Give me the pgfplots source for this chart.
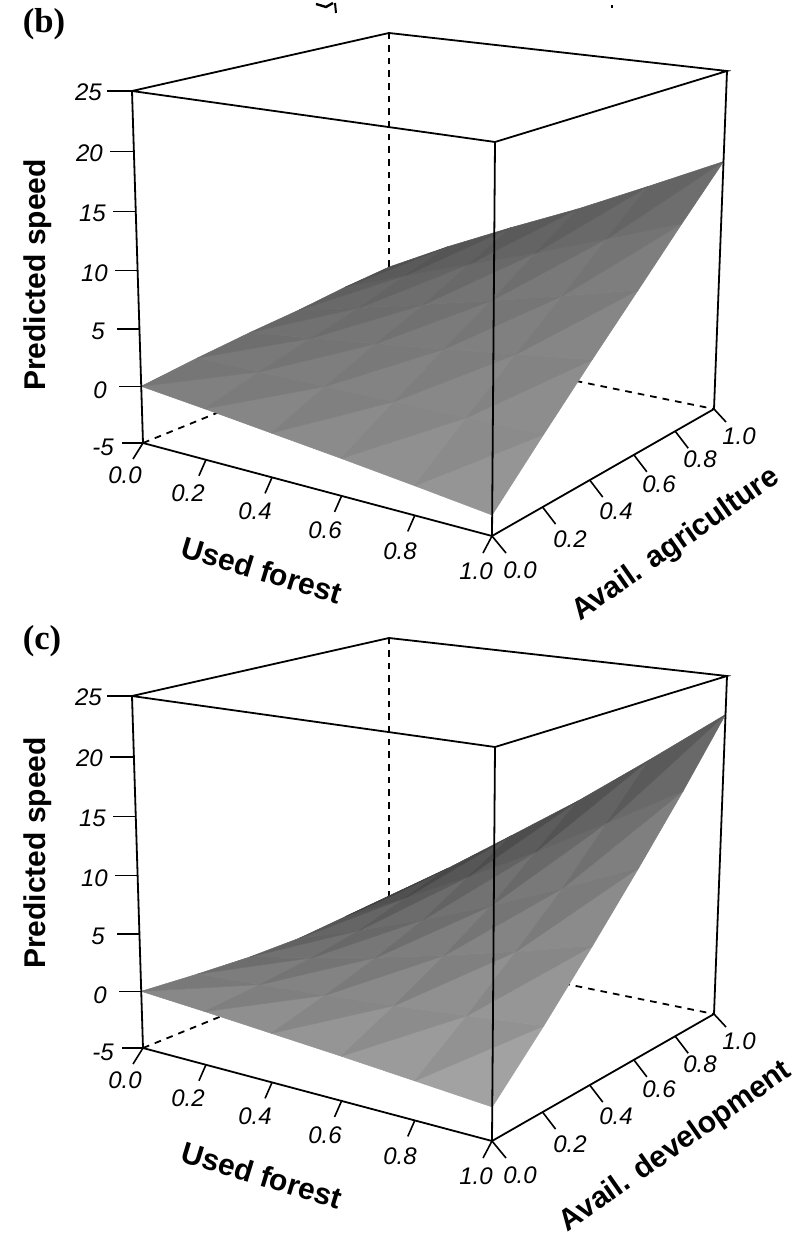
\documentclass[border=0pt]{standalone}
\usepackage{fontspec}
\setmainfont{Liberation Sans}
\newfontfamily\serifb{Liberation Serif}
\usepackage{pgfplots}
\usepackage{pgfplotstable}
\pgfplotsset{compat=1.18}
% surface values: u = used forest, v = availability, w = predicted speed
\pgfplotstableread{
u v w
0 0 0
0.2 0 -0.6
0.4 0 -1.25
0.6 0 -1.9
0.8 0 -2.6
1 0 -3.34
0 0.2 0.64
0.2 0.2 0.69
0.4 0.2 0.73
0.6 0.2 0.79
0.8 0.2 0.85
1 0.2 0.9
0 0.4 1.18
0.2 0.4 1.87
0.4 0.4 2.61
0.6 0.4 3.38
0.8 0.4 4.21
1 0.4 5.05
0 0.6 1.6
0.2 0.6 2.95
0.4 0.6 4.38
0.6 0.6 5.87
0.8 0.6 7.46
1 0.6 9.1
0 0.8 2.17
0.2 0.8 4.35
0.4 0.8 6.45
0.6 0.8 8.55
0.8 0.8 10.85
1 0.8 13.2
0 1 2.58
0.2 1 5.6
0.4 1 8.4
0.6 1 11.1
0.8 1 14.1
1 1 17.2
}\surfB
\pgfplotstableread{
u v w
0 0 0
0.2 0 -0.4
0.4 0 -0.85
0.6 0 -1.3
0.8 0 -1.8
1 0 -2.31
0 0.2 -0.35
0.2 0.2 0.0
0.4 0.2 0.4
0.6 0.2 0.87
0.8 0.2 1.41
1 0.2 2.0
0 0.4 -0.6
0.2 0.4 0.55
0.4 0.4 1.83
0.6 0.4 3.26
0.8 0.4 4.87
1 0.4 6.6
0 0.6 -0.6
0.2 0.6 1.33
0.4 0.6 3.48
0.6 0.6 5.88
0.8 0.6 8.55
1 0.6 11.4
0 0.8 -0.2
0.2 0.8 2.7
0.4 0.8 5.8
0.6 0.8 9.1
0.8 0.8 12.7
1 0.8 16.4
0 1 0.1
0.2 1 4.0
0.4 1 8.1
0.6 1 12.3
0.8 1 16.9
1 1 21.7
}\surfC
\pgfplotstableread{
u v w
0 0 25
1 0 25
1 1 25
0 1 25
0 0 25
0 0 -5
1 0 -5
1 1 -5
1 1 25
}\frameSolid
\pgfplotstableread{
u v w
1 0 -5
1 0 25
}\frameFront
\pgfplotstableread{
u v w
0 0 -5
0 1 -5
1 1 -5
}\frameDashA
\pgfplotstableread{
u v w
0 1 -5
0 1 25
}\frameDashB
\pgfplotstableread{
u v w dx dy
0 0 -5 -21 0
0 0 0 -22 0
0 0 5 -22 0
0 0 10 -23 0
0 0 15 -23 0
0 0 20 -24 0
0 0 25 -25 0
0 0 -5 -10 16
0.2 0 -5 -7 16
0.4 0 -5 -7 16
0.6 0 -5 -7 16
0.8 0 -5 -7 16
1 0 -5 -9 17
1 0 -5 14 17
1 0.2 -5 13 17
1 0.4 -5 13 17
1 0.6 -5 13 17
1 0.8 -5 13 17
1 1 -5 12 13
}\ticksTable
\tikzset{declare function={
 uu(\u)=0.88*\u/(1-0.12*\u);
 vv(\v)=1.18*\v/(1+0.18*\v);
 tt(\w)=0.96*((\w+5)/30)/(1-0.04*((\w+5)/30));
 PX(\a,\b,\c)=(1-\c)*((1-\a)*(1-\b)*143+\a*(1-\b)*492+(1-\a)*\b*389+\a*\b*714)+\c*((1-\a)*(1-\b)*132+\a*(1-\b)*495+(1-\a)*\b*389+\a*\b*727);
 PY(\a,\b,\c)=(1-\c)*((1-\a)*(1-\b)*443+\a*(1-\b)*536+(1-\a)*\b*343+\a*\b*409)+\c*((1-\a)*(1-\b)*91+\a*(1-\b)*142+(1-\a)*\b*33+\a*\b*71);
}}
\pgfplotsset{
 /pgfplots/table/proj/.style={/pgfplots/table/x expr={PX(uu(\thisrow{u}),vv(\thisrow{v}),tt(\thisrow{w}))},/pgfplots/table/y expr={PY(uu(\thisrow{u}),vv(\thisrow{v}),tt(\thisrow{w}))}},
 panel/.style={width=596.25pt,height=926.25pt,scale only axis,at={(0,0)},anchor=south west,
  xmin=0,xmax=795,y dir=reverse,hide axis,clip=false,
  point meta min=0,point meta max=1,
  colormap={grayshade}{gray(0cm)=(0); gray(1cm)=(1)}},
 shadesB/.style={table/row sep=\\,patch table with point meta={
0 1 7 .50\\ 0 7 6 .46\\ 1 2 8 .52\\ 1 8 7 .48\\ 2 3 9 .54\\ 2 9 8 .50\\ 3 4 10 .56\\ 3 10 9 .52\\ 4 5 11 .58\\ 4 11 10 .54\\
6 7 13 .47\\ 6 13 12 .43\\ 7 8 14 .49\\ 7 14 13 .45\\ 8 9 15 .51\\ 8 15 14 .47\\ 9 10 16 .53\\ 9 16 15 .49\\ 10 11 17 .55\\ 10 17 16 .51\\
12 13 19 .44\\ 12 19 18 .40\\ 13 14 20 .46\\ 13 20 19 .42\\ 14 15 21 .48\\ 14 21 20 .44\\ 15 16 22 .50\\ 15 22 21 .46\\ 16 17 23 .52\\ 16 23 22 .48\\
18 19 25 .41\\ 18 25 24 .37\\ 19 20 26 .43\\ 19 26 25 .39\\ 20 21 27 .45\\ 20 27 26 .41\\ 21 22 28 .47\\ 21 28 27 .43\\ 22 23 29 .49\\ 22 29 28 .45\\
24 25 31 .35\\ 24 31 30 .31\\ 25 26 32 .37\\ 25 32 31 .33\\ 26 27 33 .39\\ 26 33 32 .35\\ 27 28 34 .41\\ 27 34 33 .37\\ 28 29 35 .43\\ 28 35 34 .39\\
}},
 shadesC/.style={table/row sep=\\,patch table with point meta={
0 1 7 .53\\ 0 7 6 .47\\ 1 2 8 .555\\ 1 8 7 .495\\ 2 3 9 .58\\ 2 9 8 .52\\ 3 4 10 .605\\ 3 10 9 .545\\ 4 5 11 .63\\ 4 11 10 .57\\
6 7 13 .485\\ 6 13 12 .425\\ 7 8 14 .51\\ 7 14 13 .45\\ 8 9 15 .535\\ 8 15 14 .475\\ 9 10 16 .56\\ 9 16 15 .50\\ 10 11 17 .585\\ 10 17 16 .525\\
12 13 19 .44\\ 12 19 18 .38\\ 13 14 20 .465\\ 13 20 19 .405\\ 14 15 21 .49\\ 14 21 20 .43\\ 15 16 22 .515\\ 15 22 21 .455\\ 16 17 23 .54\\ 16 23 22 .48\\
18 19 25 .395\\ 18 25 24 .335\\ 19 20 26 .42\\ 19 26 25 .36\\ 20 21 27 .445\\ 20 27 26 .385\\ 21 22 28 .47\\ 21 28 27 .41\\ 22 23 29 .495\\ 22 29 28 .435\\
24 25 31 .31\\ 24 31 30 .25\\ 25 26 32 .335\\ 25 32 31 .275\\ 26 27 33 .36\\ 26 33 32 .30\\ 27 28 34 .385\\ 27 34 33 .325\\ 28 29 35 .41\\ 28 35 34 .35\\
}}
}
\newcommand\tl{\fontsize{18}{20}\selectfont\itshape}
\newcommand\at{\fontsize{22.5}{26}\selectfont\bfseries}
\newcommand\backframe{%
 \addplot[black,line width=1.35pt,dash pattern=on 5pt off 4.5pt,forget plot] table[proj] {\frameDashA};
 \addplot[black,line width=1.35pt,dash pattern=on 5pt off 4.5pt,forget plot] table[proj] {\frameDashB};
}
\newcommand\frontframe{%
 \addplot[black,line width=1.35pt,line join=miter,forget plot] table[proj] {\frameSolid};
 \addplot[black,line width=1.35pt,forget plot] table[proj] {\frameFront};
 \addplot[black,line width=1.2pt,mark=none,forget plot,quiver={u=\thisrow{dx},v=\thisrow{dy}}] table[proj] {\ticksTable};
 \node[anchor=east,inner sep=0pt] at (axis cs:102,92) {\tl 25};
 \node[anchor=east,inner sep=0pt] at (axis cs:103,153) {\tl 20};
 \node[anchor=east,inner sep=0pt] at (axis cs:106,213) {\tl 15};
 \node[anchor=east,inner sep=0pt] at (axis cs:108,273) {\tl 10};
 \node[anchor=east,inner sep=0pt] at (axis cs:105,331) {\tl 5};
 \node[anchor=east,inner sep=0pt] at (axis cs:107,390) {\tl 0};
 \node[anchor=east,inner sep=0pt] at (axis cs:114,447) {\tl -5};
 \node[inner sep=0pt] at (axis cs:125,475) {\tl 0.0};
 \node[inner sep=0pt] at (axis cs:188,493) {\tl 0.2};
 \node[inner sep=0pt] at (axis cs:255,511) {\tl 0.4};
 \node[inner sep=0pt] at (axis cs:325,530) {\tl 0.6};
 \node[inner sep=0pt] at (axis cs:400,551) {\tl 0.8};
 \node[inner sep=0pt] at (axis cs:476,571) {\tl 1.0};
 \node[inner sep=0pt] at (axis cs:520,570) {\tl 0.0};
 \node[inner sep=0pt] at (axis cs:570,539) {\tl 0.2};
 \node[inner sep=0pt] at (axis cs:616,511) {\tl 0.4};
 \node[inner sep=0pt] at (axis cs:659,484) {\tl 0.6};
 \node[inner sep=0pt] at (axis cs:700,459) {\tl 0.8};
 \node[inner sep=0pt] at (axis cs:739,436) {\tl 1.0};
 \node[rotate=-17,inner sep=0pt] at (axis cs:262,570) {\at Used forest};
}
\begin{document}
\begin{tikzpicture}
\useasboundingbox (0,0) rectangle (596.25pt,926.25pt);
\begin{axis}[panel,ymin=0,ymax=1235]
 \backframe
 \addplot[patch,shader=flat,shadesB,forget plot] table[proj] {\surfB};
 \frontframe
 \addplot[black,line width=1.8pt,forget plot] coordinates {(316,4) (326,7) (333,3)};
 \addplot[black,line width=1.5pt,forget plot] coordinates {(335,3) (336,13)};
 \addplot[black,line width=1.5pt,forget plot] coordinates {(612,5) (612,8)};
 \node[rotate=90,inner sep=0pt] at (axis cs:38,275) {\at Predicted speed};
 \node[rotate=35,inner sep=0pt] at (axis cs:676,545) {\at Avail. agriculture};
 \node[inner sep=0pt] at (axis cs:44,24) {\fontsize{26}{30}\selectfont\serifb\bfseries (b)};
\end{axis}
\begin{axis}[panel,ymin=-605,ymax=630]
 \backframe
 \addplot[patch,shader=flat,shadesC,forget plot] table[proj] {\surfC};
 \frontframe
 \node[rotate=90,inner sep=0pt] at (axis cs:38,248) {\at Predicted speed};
 \node[rotate=35,inner sep=0pt] at (axis cs:676,542) {\at Avail. development};
 \node[inner sep=0pt] at (axis cs:42,36) {\fontsize{26}{30}\selectfont\serifb\bfseries (c)};
\end{axis}
\end{tikzpicture}
\end{document}
